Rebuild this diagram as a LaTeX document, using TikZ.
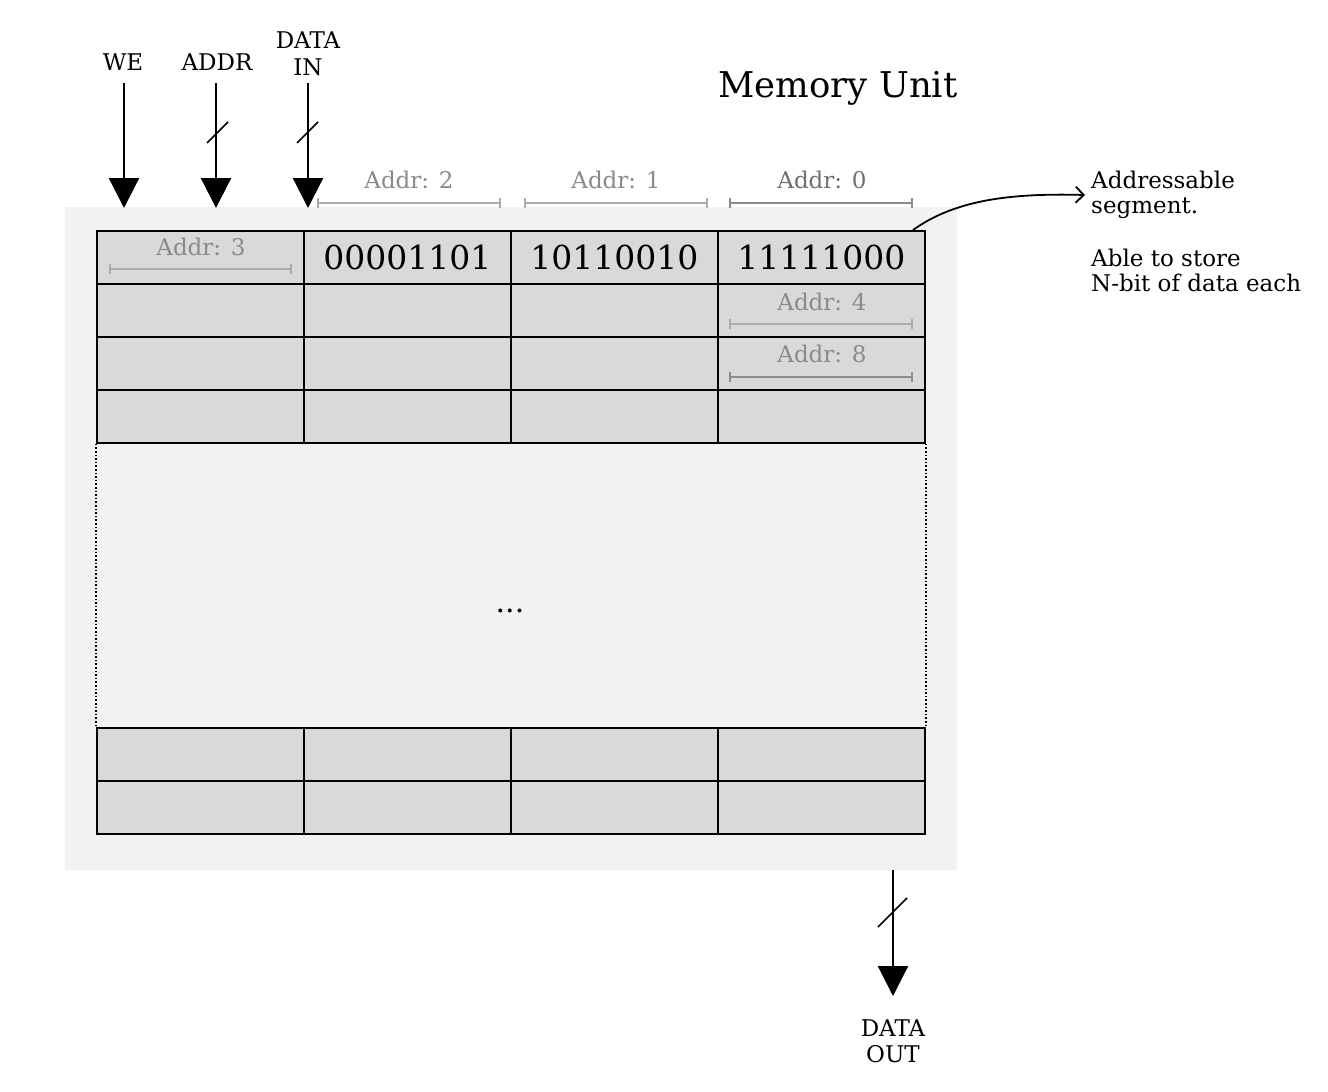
\documentclass[tikz,border=0pt]{standalone}
\usepackage{fontspec}
\setmainfont{DejaVu Serif}
\usetikzlibrary{arrows.meta}
\definecolor{bggray}{HTML}{F2F2F2}
\definecolor{cellgray}{HTML}{D9D9D9}
\definecolor{addrtext}{HTML}{8A8A8A}
\definecolor{brk}{HTML}{ABABAB}
\definecolor{brkdark}{HTML}{8C8C8C}
\begin{document}
\begin{tikzpicture}[x=1pt,y=-1pt,
  cell/.style={draw, line width=1.8pt, fill=cellgray, minimum width=207pt, minimum height=53pt, inner sep=0pt, anchor=north west},
  sig/.style={font=\fontsize{23}{25}\selectfont, align=center, inner sep=0pt},
  bus/.style={line width=2.2pt, -{Triangle[width=30pt,length=30pt]}},
  slashmark/.style={line width=1.6pt},
  addr/.style={text=addrtext, font=\fontsize{23}{26}\selectfont, inner sep=0pt},
  bracket/.style={draw=brk, line width=2pt, {Bar[width=10pt]}-{Bar[width=10pt]}},
  bracketdark/.style={draw=brkdark, line width=2pt, {Bar[width=10pt]}-{Bar[width=10pt]}},
  val/.style={font=\fontsize{33}{36}\selectfont, inner sep=0pt},
  note/.style={font=\fontsize{23}{25}\selectfont, align=left, anchor=west, inner sep=0pt},
  dotline/.style={line width=1.6pt, dash pattern=on 1.6pt off 2pt}
]
\useasboundingbox (0,0) rectangle (1328,1092);
% background
\node[fill=bggray, minimum width=892pt, minimum height=663pt, inner sep=0pt, anchor=north west] (bg) at (65,207) {};
% title
\node[font=\fontsize{35.5}{40}\selectfont, inner sep=0pt] (title) at (838,88) {Memory Unit};
% cells
\foreach \c/\x in {1/96,2/303,3/510,4/717}{
  \foreach \r/\y in {1/230,2/283,3/336,4/389,5/727,6/780}{
    \node[cell] (c\r\c) at (\x,\y) {};
  }
}
% dotted region sides
\draw[dotline] (c41.south west) -- (c51.north west);
\draw[dotline] (c44.south east) -- (c54.north east);
\node[font=\fontsize{30}{32}\selectfont, inner sep=0pt] (dots) at (510,611) {...};
% values
\node[val] (v2) at (c12.center) {00001101};
\node[val] (v3) at (c13.center) {10110010};
\node[val] (v4) at (c14.center) {11111000};
% addr labels above
\node[addr] (a2) at (409,180) {Addr: 2};
\coordinate (b2l) at (317,203); \coordinate (b2r) at (501,203);
\draw[bracket] (b2l) -- (b2r);
\node[addr] (a1) at (616,180) {Addr: 1};
\coordinate (b1l) at (524,203); \coordinate (b1r) at (708,203);
\draw[bracket] (b1l) -- (b1r);
\node[addr, text=brkdark!80!black] (a0) at (822,180) {Addr: 0};
\coordinate (b0l) at (729,203); \coordinate (b0r) at (913,203);
\draw[bracketdark] (b0l) -- (b0r);
% addr labels inside cells
\node[addr] (a3) at (201,247) {Addr: 3};
\coordinate (b3l) at (109,269); \coordinate (b3r) at (292,269);
\draw[bracket] (b3l) -- (b3r);
\node[addr] (a4) at (822,302) {Addr: 4};
\coordinate (b4l) at (729,324); \coordinate (b4r) at (913,324);
\draw[bracket] (b4l) -- (b4r);
\node[addr] (a8) at (822,354) {Addr: 8};
\coordinate (b8l) at (729,377); \coordinate (b8r) at (913,377);
\draw[bracketdark] (b8l) -- (b8r);
% input signals
\node[sig] (we) at (123,62) {WE};
\node[sig] (addrin) at (217,62) {ADDR};
\node[sig, font=\fontsize{23}{27}\selectfont] (datain) at (308,54) {DATA\\IN};
\coordinate (we1) at (124,83); \coordinate (we2) at (124,208);
\coordinate (ad1) at (216,83); \coordinate (ad2) at (216,208);
\coordinate (di1) at (308,83); \coordinate (di2) at (308,208);
\draw[bus] (we1) -- (we2);
\draw[bus] (ad1) -- (ad2);
\draw[bus] (di1) -- (di2);
\coordinate (s1a) at (207,143); \coordinate (s1b) at (228,122);
\draw[slashmark] (s1a) -- (s1b);
\coordinate (s2a) at (297,143); \coordinate (s2b) at (318,122);
\draw[slashmark] (s2a) -- (s2b);
% output
\coordinate (do1) at (893,870); \coordinate (do2) at (893,996);
\draw[bus] (do1) -- (do2);
\coordinate (s3a) at (878,927); \coordinate (s3b) at (907,898);
\draw[slashmark] (s3a) -- (s3b);
\node[sig, font=\fontsize{23}{26}\selectfont] (dataout) at (893,1041) {DATA\\OUT};
% annotation
\node[note] (n1) at (1091,195) {Addressable\\segment.};
\node[note] (n2) at (1091,270) {Able to store\\N-bit of data each};
\coordinate (cstart) at (913,230);
\coordinate (cend) at (1085,195);
\draw[line width=1.8pt, -{Straight Barb[length=8pt,width=16pt]}] (cstart) .. controls (955,200) and (1010,193) .. (cend);
\end{tikzpicture}
\end{document}
